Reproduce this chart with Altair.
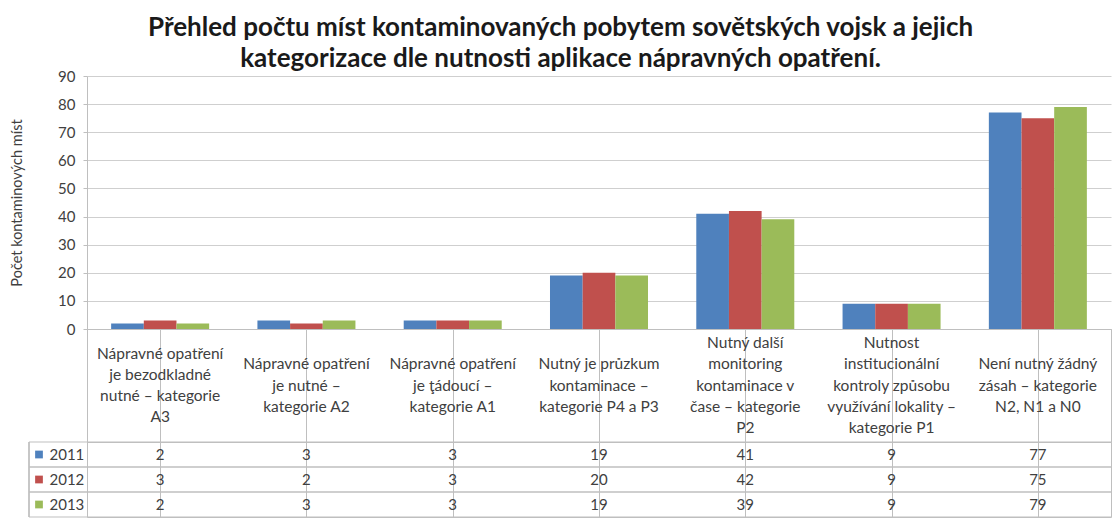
import altair as alt
import pandas as pd

# ---- data ----
categories = ["A3", "A2", "A1", "P4a3", "P2", "P1", "N"]
headers = [
    ["Nápravné opatření", "je bezodkladné", "nutné – kategorie", "A3"],
    ["Nápravné opatření", "je nutné –", "kategorie A2"],
    ["Nápravné opatření", "je ţádoucí –", "kategorie A1"],
    ["Nutný je průzkum", "kontaminace –", "kategorie P4 a P3"],
    ["Nutný další", "monitoring", "kontaminace v", "čase – kategorie", "P2"],
    ["Nutnost", "institucionální", "kontroly způsobu", "využívání lokality –", "kategorie P1"],
    ["Není nutný žádný", "zásah – kategorie", "N2, N1 a N0"],
]
years = ["2011", "2012", "2013"]
v2011 = [2, 3, 3, 19, 41, 9, 77]
v2012 = [3, 2, 3, 20, 42, 9, 75]
v2013 = [2, 3, 3, 19, 39, 9, 79]
colors = ["#4F81BD", "#C0504D", "#9BBB59"]
title_lines = [
    "Přehled počtu míst kontaminovaných pobytem sovětských vojsk a jejich",
    "kategorizace dle nutnosti aplikace nápravných opatření.",
]
y_title = "Počet kontaminových míst"

rows = []
for yr, vals in zip(years, [v2011, v2012, v2013]):
    for c, v in zip(categories, vals):
        rows.append({"cat": c, "year": yr, "value": v})
df = pd.DataFrame(rows)

head_rows = []
for c, lines in zip(categories, headers):
    n = len(lines)
    for i, t in enumerate(lines):
        head_rows.append({"cat": c, "line": t, "pos": i - (n - 1) / 2})
df_head = pd.DataFrame(head_rows)
df_years = pd.DataFrame({"year": years})

W = 1024
GRID = "#cfcfcf"
LINE = "#bfbfbf"
TXT = "#404040"

color_scale = alt.Scale(domain=years, range=colors)

bars = alt.Chart(df).mark_bar().encode(
    x=alt.X("cat:N", sort=categories,
            scale=alt.Scale(domain=categories, paddingInner=0.33, paddingOuter=0.165),
            axis=alt.Axis(labels=False, ticks=False, title=None, grid=False,
                          domainColor=LINE)),
    xOffset=alt.XOffset("year:N", sort=years,
                        scale=alt.Scale(domain=years, paddingInner=0, paddingOuter=0)),
    y=alt.Y("value:Q", scale=alt.Scale(domain=[0, 90], nice=False),
            axis=alt.Axis(values=list(range(0, 91, 10)), tickSize=4, labelPadding=8,
                          labelFontSize=15, labelColor=TXT, tickColor=LINE,
                          domainColor=LINE, gridColor=GRID, title=y_title,
                          titleFontSize=14.5, titleFontWeight="normal", titleColor=TXT,
                          titlePadding=33)),
    color=alt.Color("year:N", scale=color_scale, legend=None),
).properties(width=W, height=253)

x_table = alt.X("cat:N", sort=categories,
                scale=alt.Scale(domain=categories, paddingInner=0, paddingOuter=0),
                axis=alt.Axis(grid=True, bandPosition=0, labels=False, ticks=False,
                              domain=False, title=None, gridColor=LINE))

header = alt.Chart(df_head).mark_text(
    fontSize=15.5, color=TXT, align="center", baseline="middle"
).encode(
    x=x_table,
    y=alt.Y("pos:Q", scale=alt.Scale(domain=[2.69, -2.69]), axis=None),
    text="line:N",
).properties(width=W, height=113, view=alt.ViewBackground(stroke=LINE))

y_rows = alt.Scale(domain=years, paddingInner=0, paddingOuter=0)

values_text = alt.Chart(df).mark_text(fontSize=15, color=TXT).encode(
    x=x_table,
    y=alt.Y("year:O", scale=y_rows,
            axis=alt.Axis(ticks=False, domain=False, labelAlign="left",
                          labelPadding=38, labelFontSize=15, labelColor=TXT,
                          title=None, grid=False)),
    text="value:Q",
)
rules_top = alt.Chart(df_years).mark_rule(color=LINE).encode(
    y=alt.Y("year:O", scale=y_rows, bandPosition=0),
    x=alt.value(-58), x2=alt.value(W),
)
rules_bot = alt.Chart(df_years).mark_rule(color=LINE).encode(
    y=alt.Y("year:O", scale=y_rows, bandPosition=1),
    x=alt.value(-58), x2=alt.value(W),
)
left_border = alt.Chart(df_years).mark_rule(color=LINE).encode(
    x=alt.value(-58), y=alt.value(0), y2=alt.value(75),
)
squares = alt.Chart(df_years).mark_square(size=60, opacity=1).encode(
    y=alt.Y("year:O", scale=y_rows),
    x=alt.value(-48),
    color=alt.Color("year:N", scale=color_scale, legend=None),
)
values = alt.layer(values_text, rules_top, rules_bot, left_border, squares).properties(
    width=W, height=75, view=alt.ViewBackground(stroke=LINE))

chart = alt.vconcat(bars, header, values, spacing=0, bounds="flush").resolve_scale(
    x="independent", y="independent"
).properties(
    title=alt.TitleParams(text=title_lines, fontSize=26, font="Lato", fontWeight="bold",
                          anchor="middle", lineHeight=31, offset=-3, color="#1a1a1a"),
    padding={"left": 1, "top": 6, "right": 0, "bottom": 0},
).configure(font="Lato").configure_view(stroke="transparent")

chart.save("out.html", embed_options={"renderer": "svg", "actions": False})
